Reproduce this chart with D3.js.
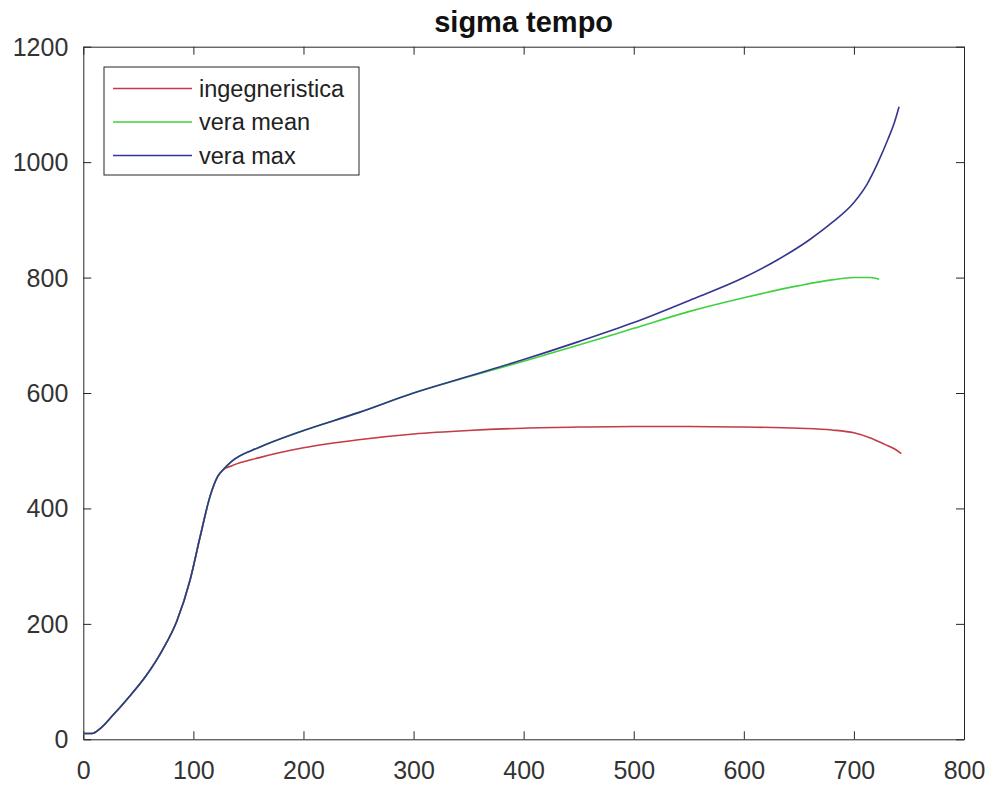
<!DOCTYPE html>
<html>
<head>
<meta charset="utf-8">
<script src="https://cdn.jsdelivr.net/npm/d3@7"></script>
<style>
  body { margin: 0; background: #fff; }
  svg { display: block; font-family: "Liberation Sans", Arial, sans-serif; }
  .axis path, .axis line { stroke: #262626; }
  .axis text { fill: #333; font-size: 25px; }
</style>
</head>
<body>
<svg id="chart" width="993" height="787"></svg>
<script>
"use strict";

// values (x, sigma)
var seriesNames = ['ingegneristica', 'vera mean', 'vera max'];
var seriesColors = ['#c23b45', '#3fd13f', '#35358f'];

// shared rising part, all three curves coincide here
var rampX = [0, 8, 15, 27, 40, 57, 72, 85, 97, 106, 115, 122, 127];
var rampY = [10, 10, 18, 42, 70, 110, 155, 205, 276, 350, 420, 455, 467];

var ingX = [135, 160, 200, 250, 300, 350, 400, 450, 500, 550, 600, 650, 680, 700, 715, 728, 737, 743];
var ingY = [474, 488, 505, 519, 529, 535, 539, 541, 542, 542, 541, 539, 536, 531, 522, 511, 503, 495];

var meanX = [135, 160, 197, 250, 300, 350, 400, 450, 500, 550, 600, 650, 680, 700, 715, 723];
var meanY = [482, 506, 533, 566, 600, 628, 655, 683, 712, 741, 765, 786, 796, 800, 800, 797];

var maxX = [135, 160, 197, 250, 300, 350, 400, 450, 500, 550, 600, 630, 660, 680, 700, 712, 722, 731, 737, 741];
var maxY = [482, 506, 533, 566, 600, 629, 658, 689, 722, 760, 800, 830, 866, 895, 930, 962, 1000, 1040, 1070, 1096];

var xTicks = [0, 100, 200, 300, 400, 500, 600, 700, 800];
var yTicks = [0, 200, 400, 600, 800, 1000, 1200];

function zipPts(xs, ys) {
  return xs.map((x, i) => ({x: x, y: ys[i]}));
}

function draw() {
  var ramp = zipPts(rampX, rampY);
  var series = [
    ramp.concat(zipPts(ingX, ingY)),
    ramp.concat(zipPts(meanX, meanY)),
    ramp.concat(zipPts(maxX, maxY))
  ];

  var svg = d3.select('#chart');
  var m = {left: 83.3, right: 964, top: 46.7, bottom: 739.3};

  var x = d3.scaleLinear().domain([0, 800]).range([m.left, m.right]);
  var y = d3.scaleLinear().domain([0, 1200]).range([m.bottom, m.top]);

  // axes - ticks pointing inward like matlab
  svg.append('g')
    .attr('class', 'axis')
    .attr('transform', 'translate(0,' + m.bottom + ')')
    .call(d3.axisBottom(x).tickValues(xTicks).tickFormat(d3.format('d'))
      .tickSizeInner(-8).tickSizeOuter(0).tickPadding(22));
  svg.append('g')
    .attr('class', 'axis')
    .attr('transform', 'translate(' + m.left + ',0)')
    .call(d3.axisLeft(y).tickValues(yTicks).tickFormat(d3.format('d'))
      .tickSizeInner(-8).tickSizeOuter(0).tickPadding(15))
    .selectAll('text').attr('dy', '0.34em');
  svg.append('g')
    .attr('class', 'axis')
    .attr('transform', 'translate(0,' + m.top + ')')
    .call(d3.axisTop(x).tickValues(xTicks).tickSizeInner(-8).tickSizeOuter(0).tickFormat(''));
  svg.append('g')
    .attr('class', 'axis')
    .attr('transform', 'translate(' + m.right + ',0)')
    .call(d3.axisRight(y).tickValues(yTicks).tickSizeInner(-8).tickSizeOuter(0).tickFormat(''));

  var line = d3.line()
    .x(d => x(d.x))
    .y(d => y(d.y))
    .curve(d3.curveMonotoneX);

  svg.selectAll('path.series')
    .data(series)
    .enter()
    .append('path')
    .attr('class', 'series')
    .attr('fill', 'none')
    .attr('stroke', (d, i) => seriesColors[i])
    .attr('stroke-width', 1.6)
    .attr('d', line);

  // title
  svg.append('text')
    .attr('x', (m.left + m.right) / 2)
    .attr('y', 32)
    .attr('text-anchor', 'middle')
    .attr('font-size', 29)
    .attr('font-weight', 'bold')
    .attr('fill', '#111')
    .text('sigma tempo');

  // legend
  var legend = svg.append('g');
  legend.append('rect')
    .attr('x', 104).attr('y', 67)
    .attr('width', 255).attr('height', 108)
    .attr('fill', '#fff')
    .attr('stroke', '#262626')
    .attr('stroke-width', 1);

  var row = legend.selectAll('g.row')
    .data(seriesNames)
    .enter()
    .append('g')
    .attr('class', 'row')
    .attr('transform', (d, i) => 'translate(0,' + (88.5 + i * 33.5) + ')');
  row.append('line')
    .attr('x1', 113).attr('x2', 192)
    .attr('stroke', (d, i) => seriesColors[i])
    .attr('stroke-width', 1.6);
  row.append('text')
    .attr('x', 199)
    .attr('dy', '0.35em')
    .attr('font-size', 23.5)
    .attr('fill', '#222')
    .text(d => d);
}

draw();
</script>
</body>
</html>
